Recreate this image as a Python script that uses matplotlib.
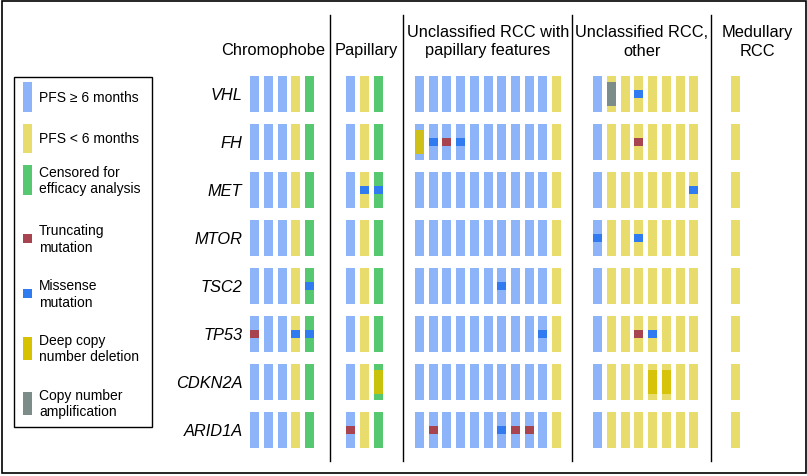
import numpy as np
import matplotlib.pyplot as plt

# patient groups and PFS status of each patient (B = PFS >= 6 mo, Y = PFS < 6 mo, G = censored)
groups = ['Chromophobe', 'Papillary', 'Unclassified RCC with\npapillary features',
          'Unclassified RCC,\nother', 'Medullary\nRCC']
group_status = [
    ['B', 'B', 'B', 'Y', 'G'],
    ['B', 'Y', 'G'],
    ['B'] * 10 + ['Y'],
    ['B'] + ['Y'] * 7,
    ['Y'],
]
genes = ['VHL', 'FH', 'MET', 'MTOR', 'TSC2', 'TP53', 'CDKN2A', 'ARID1A']

# alterations: (gene, group index, patient index within group, type)
# T = truncating, M = missense, D = deep deletion, A = amplification
alterations = [
    ('VHL', 3, 1, 'A'), ('VHL', 3, 3, 'M'),
    ('FH', 2, 0, 'D'), ('FH', 2, 1, 'M'), ('FH', 2, 2, 'T'), ('FH', 2, 3, 'M'), ('FH', 3, 3, 'T'),
    ('MET', 1, 1, 'M'), ('MET', 1, 2, 'M'), ('MET', 3, 7, 'M'),
    ('MTOR', 3, 0, 'M'), ('MTOR', 3, 3, 'M'),
    ('TSC2', 0, 4, 'M'), ('TSC2', 2, 6, 'M'),
    ('TP53', 0, 0, 'T'), ('TP53', 0, 3, 'M'), ('TP53', 0, 4, 'M'), ('TP53', 2, 9, 'M'),
    ('TP53', 3, 3, 'T'), ('TP53', 3, 4, 'M'),
    ('CDKN2A', 1, 2, 'D'), ('CDKN2A', 3, 4, 'D'), ('CDKN2A', 3, 5, 'D'),
    ('ARID1A', 1, 0, 'T'), ('ARID1A', 2, 1, 'T'), ('ARID1A', 2, 6, 'M'), ('ARID1A', 2, 7, 'T'),
    ('ARID1A', 2, 8, 'T'),
]

legend_labels = ['PFS \u2265 6 months', 'PFS < 6 months', 'Censored for\nefficacy analysis',
                 'Truncating\nmutation', 'Missense\nmutation', 'Deep copy\nnumber deletion',
                 'Copy number\namplification']

status_colors = {'B': '#8db4f8', 'Y': '#e8dc6c', 'G': '#55c870'}
alt_colors = {'T': '#a8444f', 'M': '#2f7bef', 'D': '#d6c200', 'A': '#7c8c88'}
alt_heights = {'T': 0.18, 'M': 0.18, 'D': 0.48, 'A': 0.48}

plt.rcParams['font.family'] = ['Liberation Sans', 'DejaVu Sans']

fig = plt.figure(figsize=(8.07, 4.77), dpi=100)
ax = fig.add_axes([0, 0, 1, 1])
step = 13.72  # px per column
ax.set_xlim(-254.8 / step, (807 - 254.8) / step)
ax.set_ylim((477 - 95) / 48, -95 / 48)
ax.axis('off')

# first column of each group (two empty columns between groups)
starts = []
c = 0
for st in group_status:
    starts.append(c)
    c += len(st) + 2
bar_w = 9 / step
bar_h = 36.7 / 48

for g, st in enumerate(group_status):
    xs = starts[g] + np.arange(len(st))
    cols = [status_colors[s] for s in st]
    for r in range(len(genes)):
        ax.bar(xs, bar_h, width=bar_w, bottom=r - bar_h / 2, color=cols, linewidth=0)

for gene, g, p, kind in alterations:
    r = genes.index(gene)
    h = alt_heights[kind]
    ax.bar(starts[g] + p, h, width=bar_w, bottom=r - h / 2, color=alt_colors[kind], linewidth=0,
           alpha=0.9 if kind == 'D' else 1)

# gene labels
for r, gene in enumerate(genes):
    ax.text(-0.9, r, gene, ha='right', va='center', fontsize=11.8, style='italic')

# separators between groups
sep_x = [5.48, 10.78, 23.14, 33.25]
for x in sep_x:
    ax.plot([x, x], [(16 - 95) / 48, (462 - 95) / 48], color='black', lw=1)

# headers
head_x = [1.3, 8.16, 17.0, 28.22, 36.6]
line1_y = (36.7 - 95) / 48
line2_y = (55.5 - 95) / 48
for g, name in enumerate(groups):
    lines = name.split('\n')
    ys = [line2_y] if len(lines) == 1 else [line1_y, line2_y]
    for ln, y in zip(lines, ys):
        ax.text(head_x[g], y, ln, ha='center', va='baseline', fontsize=11.8)

# outer frame
ax.add_patch(plt.Rectangle((-253 / step, (474 - 95) / 48), 804 / step, -472 / 48,
                           fill=False, edgecolor='black', lw=1.2))

# legend
ax.add_patch(plt.Rectangle(((14 - 254.8) / step, (428 - 95) / 48), 138 / step, -350 / 48,
                           fill=False, edgecolor='black', lw=1))
leg_y = [98, 139, 181, 239.5, 294.5, 349, 404]
leg_colors = [status_colors['B'], status_colors['Y'], status_colors['G'],
              alt_colors['T'], alt_colors['M'], alt_colors['D'], alt_colors['A']]
leg_h = [30, 29, 30, 9, 9, 23, 23]
for yp, col, hp, lab in zip(leg_y, leg_colors, leg_h, legend_labels):
    y = (yp - 95) / 48
    h = hp / 48
    ax.bar((27.5 - 254.8) / step, h, width=8.5 / step, bottom=y - h / 2, color=col, linewidth=0)
    ax.text((39 - 254.8) / step, y, lab, ha='left', va='center', fontsize=10, linespacing=1.2)

fig.savefig('out.png', dpi=100)
